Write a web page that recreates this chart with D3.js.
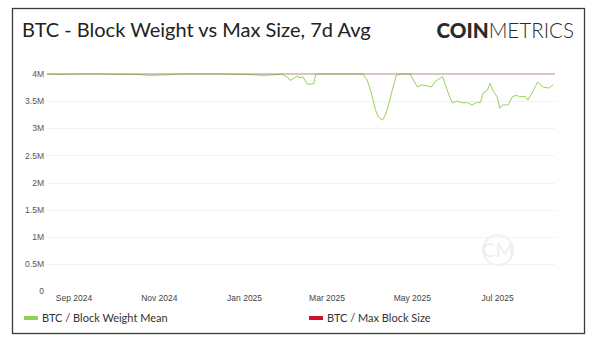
<!doctype html>
<html lang="en">
<head>
  <meta charset="utf-8">
  <title>BTC - Block Weight vs Max Size, 7d Avg</title>
  <style>
    html, body { margin: 0; padding: 0; background: #fff; }
    svg { display: block; }
    .title { font-family: Lato, "Open Sans", sans-serif; font-size: 20px; fill: #222; }
    .axis text { font-family: "Liberation Sans", Arial, sans-serif; font-size: 8.5px; fill: #555; }
    .legend text { font-family: Lato, sans-serif; font-size: 11px; fill: #333; }
  </style>
</head>
<body>
  <div id="vis"></div>

  <script src="https://cdn.jsdelivr.net/npm/d3@7/dist/d3.min.js"></script>
  <script>
    // 7-day average block weight (bytes), sampled along the series
    const dates = [
      '2024-08-13', '2024-08-22', '2024-09-05', '2024-09-20', '2024-10-04', '2024-10-18',
      '2024-10-25', '2024-10-31', '2024-11-07', '2024-11-16', '2024-11-30', '2024-12-15',
      '2024-12-29', '2025-01-09', '2025-01-14', '2025-01-19', '2025-01-28', '2025-02-01',
      '2025-02-03', '2025-02-06', '2025-02-08', '2025-02-10', '2025-02-12', '2025-02-15',
      '2025-02-18', '2025-02-20', '2025-02-21', '2025-02-23', '2025-03-11', '2025-03-27',
      '2025-03-30', '2025-04-02', '2025-04-05', '2025-04-07', '2025-04-10', '2025-04-12',
      '2025-04-14', '2025-04-17', '2025-04-20', '2025-04-23', '2025-04-30', '2025-05-02',
      '2025-05-05', '2025-05-08', '2025-05-12', '2025-05-15', '2025-05-18', '2025-05-23',
      '2025-05-25', '2025-05-27', '2025-05-30', '2025-06-02', '2025-06-06', '2025-06-10',
      '2025-06-13', '2025-06-17', '2025-06-19', '2025-06-21', '2025-06-24', '2025-06-26',
      '2025-06-28', '2025-07-01', '2025-07-03', '2025-07-05', '2025-07-09', '2025-07-12',
      '2025-07-15', '2025-07-17', '2025-07-21', '2025-07-23', '2025-07-26', '2025-07-30',
      '2025-08-03', '2025-08-07', '2025-08-10'
    ];
    const weightMean = [
      4.0, 3.995, 4.0, 4.0, 3.995, 3.99,
      3.975, 3.98, 3.985, 4.0, 4.0, 4.0,
      3.995, 3.985, 3.975, 3.98, 3.995, 3.94,
      3.88, 3.93, 3.96, 3.93, 3.95, 3.82,
      3.81, 3.83, 3.98, 4.0, 4.0, 4.0,
      3.89, 3.65, 3.34, 3.21, 3.15, 3.24,
      3.39, 3.70, 3.98, 4.0, 4.0, 3.89,
      3.76, 3.80, 3.78, 3.76, 3.87, 3.95,
      3.80, 3.65, 3.47, 3.50, 3.47, 3.47,
      3.43, 3.48, 3.47, 3.65, 3.70, 3.83,
      3.70, 3.58, 3.37, 3.43, 3.43, 3.58,
      3.61, 3.58, 3.59, 3.52, 3.65, 3.85,
      3.76, 3.74, 3.80
    ].map(v => v * 1e6);
    const maxBlockSize = 4e6;

    const yTicks = [0, 0.5e6, 1e6, 1.5e6, 2e6, 2.5e6, 3e6, 3.5e6, 4e6];
    const xTicks = ['2024-09-01', '2024-11-01', '2025-01-01', '2025-03-01', '2025-05-01', '2025-07-01'];
    const legendLabels = ['BTC / Block Weight Mean', 'BTC / Max Block Size'];

    const w = 600, h = 344;
    const parse = d3.utcParse('%Y-%m-%d');
    const data = dates.map((d, i) => ({ date: parse(d), value: weightMean[i] }));

    const svg = d3.select('#vis')
      .append('svg')
        .attr('width', w)
        .attr('height', h);

    // frame
    svg.append('rect')
      .attr('x', 12.5).attr('y', 8.5)
      .attr('width', 572).attr('height', 325)
      .attr('fill', '#fff')
      .attr('stroke', '#3a3a3a')
      .attr('stroke-width', 1.3);

    svg.append('text')
      .attr('class', 'title')
      .attr('x', 22)
      .attr('y', 37)
      .text('BTC - Block Weight vs Max Size, 7d Avg');

    // brand mark
    const brand = svg.append('text')
      .attr('x', 574)
      .attr('y', 38)
      .attr('text-anchor', 'end')
      .style('font-family', 'Lato, sans-serif')
      .style('font-size', '20.6px')
      .style('fill', '#2a2a2a');
    brand.append('tspan').style('font-weight', 900).text('COIN');
    brand.append('tspan').style('font-weight', 300).text('METRICS');

    const x = d3.scaleUtc()
      .domain([parse('2024-08-13'), parse('2025-08-10')])
      .range([47, 553]);

    const y = d3.scaleLinear()
      .domain([0, 4e6])
      .range([291, 74]);

    // faint background mark
    const wm = svg.append('g').attr('transform', 'translate(498, 250)');
    wm.append('circle').attr('r', 15).attr('fill', 'none').attr('stroke', '#f0f0f0').attr('stroke-width', 2);
    wm.append('text')
      .attr('text-anchor', 'middle').attr('dy', '0.35em')
      .style('font-family', 'Lato, sans-serif').style('font-size', '20px')
      .style('fill', '#eeeeee')
      .text('CM');

    // grid lines
    svg.append('g')
      .selectAll('line')
      .data(yTicks.filter(t => t > 0 && t < 4e6))
      .enter()
      .append('line')
        .attr('x1', 47).attr('x2', 555)
        .attr('y1', d => Math.round(y(d)) + 0.5)
        .attr('y2', d => Math.round(y(d)) + 0.5)
        .attr('stroke', '#f2f2f2')
        .attr('stroke-width', 1);

    const fmtY = d => d === 0 ? '0' : (d / 1e6) + 'M';

    const yAxis = svg.append('g')
      .attr('class', 'axis')
      .attr('transform', 'translate(44, 0)')
      .call(d3.axisLeft(y).tickValues(yTicks).tickFormat(fmtY).tickSize(0).tickPadding(0));
    yAxis.select('.domain').remove();

    const xAxis = svg.append('g')
      .attr('class', 'axis')
      .attr('transform', 'translate(0, 293)')
      .call(d3.axisBottom(x)
        .tickValues(xTicks.map(parse))
        .tickFormat(d3.utcFormat('%b %Y'))
        .tickSize(0)
        .tickPadding(2));
    xAxis.select('.domain').remove();
    xAxis.selectAll('text').style('fill', '#444');

    const line = d3.line()
      .x(d => x(d.date))
      .y(d => y(d.value));

    svg.append('path')
      .datum(data)
      .attr('fill', 'none')
      .attr('stroke', '#9ccf5c')
      .attr('stroke-width', 1)
      .attr('d', line);

    // max block size, drawn translucent over the mean
    svg.append('line')
      .attr('x1', x.range()[0]).attr('x2', x.range()[1] + 2)
      .attr('y1', y(maxBlockSize)).attr('y2', y(maxBlockSize))
      .attr('stroke', '#a06660')
      .attr('stroke-opacity', 0.5)
      .attr('stroke-width', 1.4);

    // legend
    const legendColors = ['#92cf58', '#d0112b'];
    const legendX = [24, 309];
    const legend = svg.append('g').attr('class', 'legend');
    legendLabels.forEach((label, i) => {
      legend.append('rect')
        .attr('x', legendX[i]).attr('y', 316)
        .attr('width', 14).attr('height', 4)
        .attr('fill', legendColors[i]);
      legend.append('text')
        .attr('x', legendX[i] + 18)
        .attr('y', 318)
        .attr('dy', '0.35em')
        .text(label);
    });
  </script>
</body>
</html>
